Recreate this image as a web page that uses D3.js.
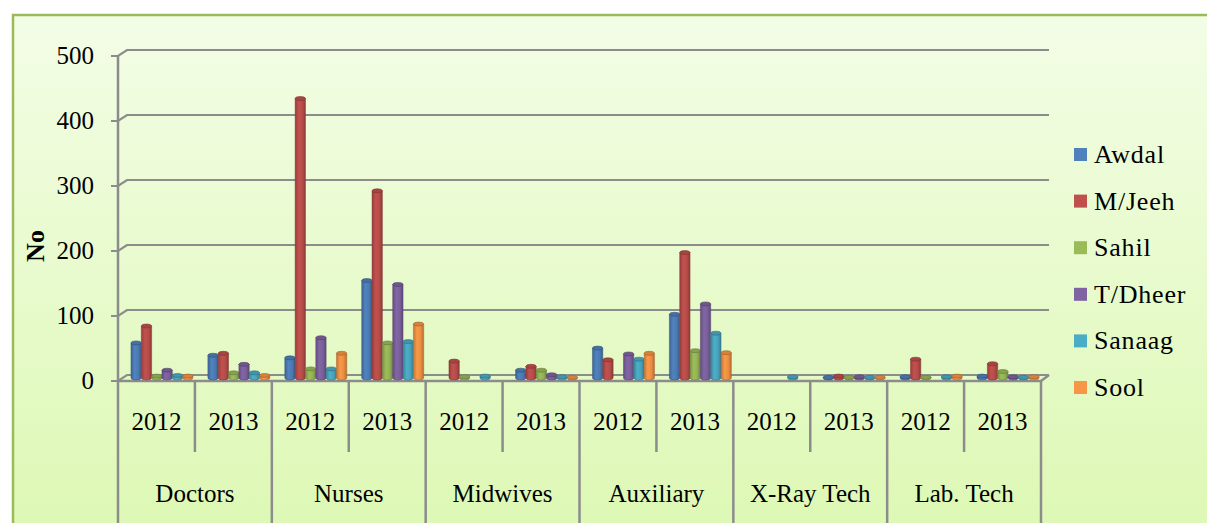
<!DOCTYPE html>
<html>
<head>
<meta charset="utf-8">
<script src="https://cdn.jsdelivr.net/npm/d3@7"></script>
<style>
  html, body { margin: 0; padding: 0; background: #ffffff; }
  svg { display: block; }
</style>
</head>
<body>
<svg id="chart" width="1207" height="523" font-family="'Liberation Serif', 'Times New Roman', serif"></svg>
<script>
// Health workforce by region, 2012 vs 2013
const categories = ["Doctors", "Nurses", "Midwives", "Auxiliary", "X-Ray Tech", "Lab. Tech"];
const years = ["2012", "2013"];
const regions = ["Awdal", "M/Jeeh", "Sahil", "T/Dheer", "Sanaag", "Sool"];
const yTicks = [0, 100, 200, 300, 400, 500];

// one value per category/year slot, in the order Doctors 2012, Doctors 2013, Nurses 2012, ...
const awdal  = [54, 35, 31, 150, 0, 12, 46, 98, 0, 1, 2, 3];
const mjeeh  = [80, 38, 430, 288, 26, 18, 28, 193, 0, 3, 29, 22];
const sahil  = [3, 8, 14, 54, 2, 12, 0, 42, 0, 1, 1, 10];
const tdheer = [12, 21, 62, 144, 0, 5, 37, 114, 0, 2, 0, 2];
const sanaag = [4, 8, 14, 56, 3, 2, 29, 69, 2, 1, 2, 1];
const sool   = [3, 4, 38, 83, 0, 1, 38, 39, 0, 1, 3, 2];
const seriesValues = [awdal, mjeeh, sahil, tdheer, sanaag, sool];

const colors = ["#4f81bd", "#c0504d", "#9bbb59", "#8064a2", "#4bacc6", "#f79646"];

const svg = d3.select("#chart");
const defs = svg.append("defs");

// chart area background
const bg = defs.append("linearGradient").attr("id", "bgGrad")
  .attr("x1", 0).attr("y1", 0).attr("x2", 0).attr("y2", 1);
bg.append("stop").attr("offset", "0%").attr("stop-color", "#f3fde6");
bg.append("stop").attr("offset", "100%").attr("stop-color", "#dcf8b2");

svg.append("rect")
  .attr("x", 13).attr("y", 15).attr("width", 1230).attr("height", 540)
  .attr("fill", "url(#bgGrad)")
  .attr("stroke", "#9bbb59").attr("stroke-width", 2.5);

// geometry
const left = 118, right = 1041;
const floorY = 381;          // front edge of floor (value 0)
const depthX = 9, depthY = -6; // back wall offset
const slots = d3.range(categories.length * years.length);

const x = d3.scaleBand().domain(slots).range([left, right]).padding(0);
const y = d3.scaleLinear().domain([0, 500]).range([floorY, floorY - 325]);
const inner = d3.scaleBand().domain(regions).range([0, 62]).padding(0);

const gridColor = "#8c8c8c";

// back wall gridlines with their diagonal joins to the axis ticks
const grid = svg.append("g");
yTicks.forEach(t => {
  const yy = y(t);
  grid.append("path")
    .attr("d", `M${left - 7},${yy} L${left},${yy} L${left + depthX},${yy + depthY} L${right + depthX - 1},${yy + depthY}`)
    .attr("fill", "none").attr("stroke", gridColor).attr("stroke-width", 2.2);
});

// floor front edge and right side edge
grid.append("path")
  .attr("d", `M${left},${floorY} L${right},${floorY} L${right + depthX - 1},${floorY + depthY}`)
  .attr("fill", "none").attr("stroke", gridColor).attr("stroke-width", 2.5);

// y axis line
grid.append("line")
  .attr("x1", left).attr("x2", left).attr("y1", y(500)).attr("y2", 523)
  .attr("stroke", gridColor).attr("stroke-width", 2.5);

// tick labels
svg.append("g").selectAll("text").data(yTicks).join("text")
  .attr("x", 94).attr("y", d => y(d) + 8)
  .attr("text-anchor", "end")
  .attr("font-size", 25)
  .text(d => d);

// axis title
svg.append("text")
  .attr("transform", "translate(44,246) rotate(-90)")
  .attr("text-anchor", "middle")
  .attr("font-size", 26).attr("font-weight", "bold")
  .text("No");

// cylinder gradients
colors.forEach((c, i) => {
  const base = d3.color(c);
  const g = defs.append("linearGradient").attr("id", "cyl" + i)
    .attr("x1", 0).attr("y1", 0).attr("x2", 1).attr("y2", 0);
  g.append("stop").attr("offset", "0%").attr("stop-color", base.darker(0.7));
  g.append("stop").attr("offset", "35%").attr("stop-color", base.brighter(0.05));
  g.append("stop").attr("offset", "70%").attr("stop-color", base.darker(0.15));
  g.append("stop").attr("offset", "100%").attr("stop-color", base.darker(0.9));
});

// bars drawn as cylinders standing mid-depth on the floor
const barDX = depthX / 2 + 1, barDY = depthY / 2;
const ry = 2;
const barsG = svg.append("g");
slots.forEach(s => {
  regions.forEach((r, i) => {
    const v = seriesValues[i][s];
    if (!v) return;
    const x0 = x(s) + (x.bandwidth() - 62) / 2 + barDX + inner(r);
    const w = inner.bandwidth();
    const yb = y(0) + barDY;
    const yt = y(v) + barDY;
    const g = barsG.append("g");
    g.append("path")
      .attr("d", `M${x0},${yt} L${x0},${yb} A${w / 2},${ry} 0 0 0 ${x0 + w},${yb} L${x0 + w},${yt} Z`)
      .attr("fill", `url(#cyl${i})`)
      .attr("stroke", d3.color(colors[i]).darker(1)).attr("stroke-width", 0.5);
    g.append("ellipse")
      .attr("cx", x0 + w / 2).attr("cy", yt).attr("rx", w / 2).attr("ry", ry)
      .attr("fill", d3.color(colors[i]).darker(0.4))
      .attr("stroke", d3.color(colors[i]).darker(1.2)).attr("stroke-width", 0.6);
  });
});

// category axis: year row and category row
const axisG = svg.append("g");
slots.forEach(s => {
  const xs = x(s);
  const isGroupStart = s % 2 === 0;
  if (s > 0) {
    axisG.append("line")
      .attr("x1", xs).attr("x2", xs)
      .attr("y1", floorY).attr("y2", isGroupStart ? 523 : 452)
      .attr("stroke", gridColor).attr("stroke-width", 2.5);
  }
  axisG.append("text")
    .attr("x", xs + x.bandwidth() / 2).attr("y", 430)
    .attr("text-anchor", "middle")
    .attr("font-size", 25)
    .text(years[s % 2]);
});
axisG.append("line")
  .attr("x1", right).attr("x2", right).attr("y1", floorY).attr("y2", 523)
  .attr("stroke", gridColor).attr("stroke-width", 2.5);

categories.forEach((c, ci) => {
  const xs = x(ci * 2);
  axisG.append("text")
    .attr("x", xs + x.bandwidth()).attr("y", 502)
    .attr("text-anchor", "middle")
    .attr("font-size", 25)
    .text(c);
});

// legend
const legend = svg.append("g");
regions.forEach((r, i) => {
  const ly = 155 + i * 46.6;
  legend.append("rect")
    .attr("x", 1074).attr("y", ly - 7).attr("width", 13).attr("height", 13)
    .attr("fill", colors[i]);
  legend.append("text")
    .attr("x", 1094).attr("y", ly + 8)
    .attr("font-size", 26)
    .attr("letter-spacing", 0.8)
    .text(r);
});
</script>
</body>
</html>
